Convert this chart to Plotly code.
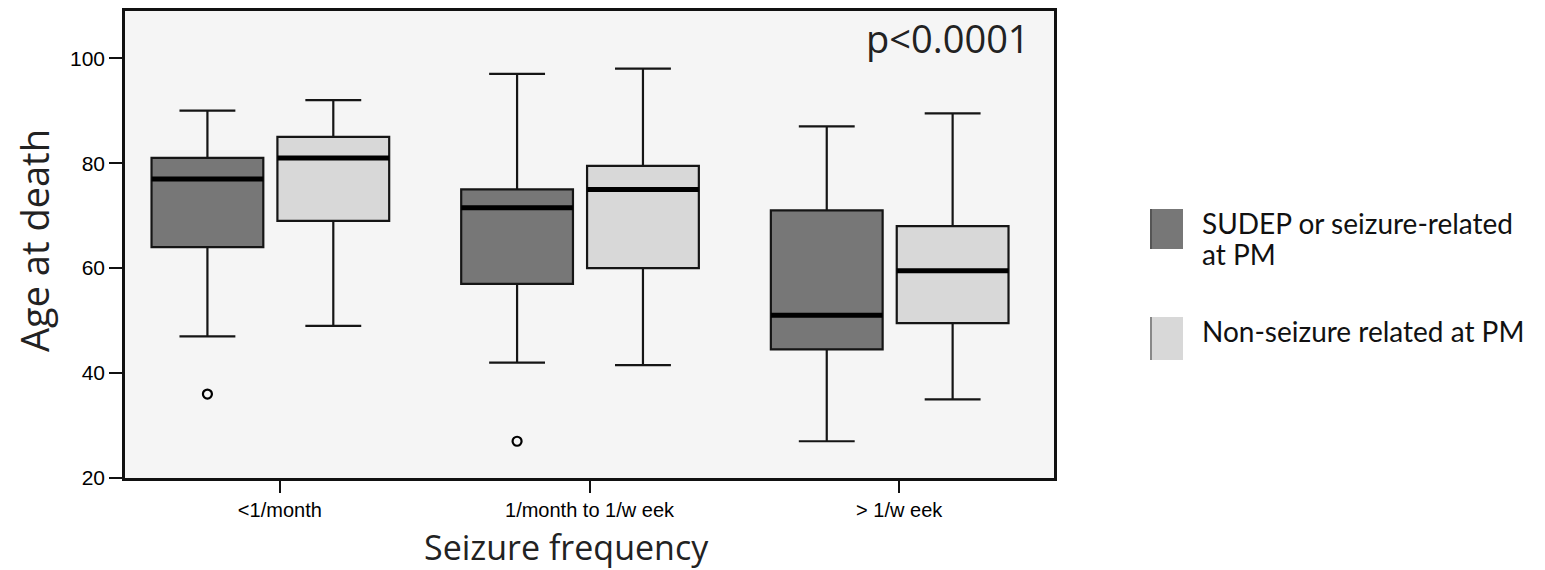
import plotly.graph_objects as go

# ---------------- data ----------------
categories = ["<1/month", "1/month to 1/w eek", "> 1/w eek"]
series_names = ["SUDEP or seizure-related<br>at PM", "Non-seizure related at PM"]

dark_upper = [90, 97, 87]
dark_q3 = [81, 75, 71]
dark_median = [77, 71.5, 51]
dark_q1 = [64, 57, 44.5]
dark_lower = [47, 42, 27]

light_upper = [92, 98, 89.5]
light_q3 = [85, 79.5, 68]
light_median = [81, 75, 59.5]
light_q1 = [69, 60, 49.5]
light_lower = [49, 41.5, 35]

dark_outlier_cats = ["<1/month", "1/month to 1/w eek"]
dark_outlier_vals = [36, 27]
light_outlier_cats = []
light_outlier_vals = []

y_ticks = [20, 40, 60, 80, 100]
p_text = "p<0.0001"
x_title = "Seizure frequency"
y_title = "Age at death"

# ---------------- style ----------------
DARK = "#777777"
LIGHT = "#d8d8d8"
BG = "#f5f5f5"
BOXGAP = 0.187
BOXGROUPGAP = 0.112
SHIFT = 0.0306

W, H = 1545, 570
L, R, T, B = 125, W - 1054, 11, H - 478


def px_x(px):
    return (px - L) / (W - L - R)


def px_y(py):
    return (H - B - py) / (H - T - B)


fig = go.Figure()

# invisible trace so the primary (tick-bearing) x axis is drawn
fig.add_trace(go.Scatter(x=categories, y=[None] * len(categories), mode="markers",
                         xaxis="x", yaxis="y", showlegend=False, hoverinfo="skip"))

series = [
    ("dark", DARK, dark_upper, dark_q3, dark_median, dark_q1, dark_lower, dark_outlier_cats, dark_outlier_vals),
    ("light", LIGHT, light_upper, light_q3, light_median, light_q1, light_lower, light_outlier_cats, light_outlier_vals),
]

for name, col, up, q3, med, q1, lo, ocats, ovals in series:
    fig.add_trace(go.Box(
        x=categories, q1=q1, median=med, q3=q3, lowerfence=lo, upperfence=up,
        fillcolor=col, line=dict(color="#151515", width=2.2),
        whiskerwidth=0.5, offsetgroup=name, alignmentgroup="g",
        xaxis="x2", yaxis="y", showlegend=False, hoverinfo="skip",
    ))

for name, col, up, q3, med, q1, lo, ocats, ovals in series:
    # thick median line overlay
    fig.add_trace(go.Box(
        x=categories, q1=med, median=med, q3=med, lowerfence=med, upperfence=med,
        fillcolor="rgba(0,0,0,0)", line=dict(color="#000000", width=5),
        whiskerwidth=0, offsetgroup=name, alignmentgroup="g",
        xaxis="x2", yaxis="y", showlegend=False, hoverinfo="skip",
    ))

for name, col, up, q3, med, q1, lo, ocats, ovals in series:
    fig.add_trace(go.Scatter(
        x=ocats, y=ovals, mode="markers", offsetgroup=name, alignmentgroup="g",
        marker=dict(symbol="circle-open", size=9, color="#000000", line=dict(width=2.2)),
        xaxis="x2", yaxis="y", showlegend=False, hoverinfo="skip",
    ))

y_tick_font = dict(family="Liberation Sans, Arial", size=21, color="#000000")
x_tick_font = dict(family="Liberation Sans, Arial", size=20, color="#000000")
title_font = dict(family="Open Sans", size=38, color="#222222")

fig.update_layout(
    width=W, height=H,
    margin=dict(l=L, r=R, t=T, b=B, autoexpand=False),
    paper_bgcolor="white", plot_bgcolor=BG,
    boxmode="group", boxgap=BOXGAP, boxgroupgap=BOXGROUPGAP,
    scattermode="group", scattergap=BOXGAP,
    showlegend=False,
    xaxis=dict(
        type="category", categoryorder="array", categoryarray=categories,
        range=[-0.5, len(categories) - 0.5], automargin=False,
        showline=True, linecolor="#111111", linewidth=2.5, mirror=True,
        ticks="outside", ticklen=12, tickwidth=2, tickcolor="#111111",
        tickfont=x_tick_font, showgrid=False, zeroline=False,
    ),
    xaxis2=dict(
        type="category", categoryorder="array", categoryarray=categories,
        range=[-0.5 + SHIFT, len(categories) - 0.5 + SHIFT],
        overlaying="x", anchor="y", visible=False,
    ),
    yaxis=dict(
        range=[20, 109], tickvals=y_ticks, automargin=False,
        showline=True, linecolor="#111111", linewidth=2.5, mirror=True,
        ticks="outside", ticklen=13, tickwidth=2, tickcolor="#111111",
        tickfont=y_tick_font, showgrid=False, zeroline=False,
    ),
)

# axis titles
fig.add_annotation(
    text=x_title, xref="paper", yref="paper", x=px_x(566), y=px_y(547),
    xanchor="center", yanchor="middle", showarrow=False,
    font=dict(family="Open Sans", size=34, color="#222222"),
)
fig.add_annotation(
    text=y_title, xref="paper", yref="paper", x=px_x(34), y=px_y(241),
    xanchor="center", yanchor="middle", textangle=-90, showarrow=False,
    font=title_font,
)

fig.add_annotation(
    text=p_text, xref="paper", yref="paper", x=px_x(1032), y=px_y(10),
    xanchor="right", yanchor="top", showarrow=False,
    font=dict(family="Open Sans", size=38, color="#222222"),
)

# manual legend
leg = [(DARK, "#555555", 209, 249, series_names[0], [223, 254]),
       (LIGHT, "#888888", 317, 360, series_names[1], [331])]
for fill, edge, y0, y1, label, ymids in leg:
    fig.add_shape(type="rect", xref="paper", yref="paper",
                  x0=px_x(1150), x1=px_x(1183), y0=px_y(y1), y1=px_y(y0),
                  fillcolor=fill, line=dict(width=0))
    fig.add_shape(type="line", xref="paper", yref="paper",
                  x0=px_x(1151), x1=px_x(1151), y0=px_y(y1), y1=px_y(y0),
                  line=dict(color=edge, width=2))
    for line_text, ym in zip(label.split("<br>"), ymids):
        fig.add_annotation(
            text=line_text, xref="paper", yref="paper", x=px_x(1200), y=px_y(ym),
            xanchor="left", yanchor="middle", align="left", showarrow=False,
            font=dict(family="Lato", size=28, color="#111111"),
        )

fig.write_html("out.html")
